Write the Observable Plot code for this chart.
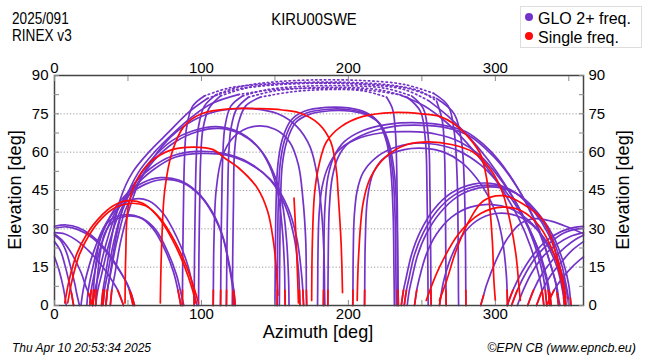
<!DOCTYPE html>
<html><head><meta charset="utf-8">
<script src="https://cdn.jsdelivr.net/npm/d3@7"></script>
<script src="https://cdn.jsdelivr.net/npm/@observablehq/plot@0.6"></script>
<style>
body{margin:0;background:#fff;}
#wrap{position:relative;width:650px;height:360px;overflow:hidden;background:#fff;font-family:"Liberation Sans",Arial,sans-serif;color:#000}
.t{position:absolute;white-space:nowrap;line-height:1}
#legend{position:absolute;left:520px;top:6px;width:122px;height:42px;border:1px solid #ddd;background:#fff;box-sizing:border-box}
.dot{position:absolute;width:8px;height:8px;border-radius:50%}
</style></head><body><div id="wrap"></div>
<script>
// ---------- axis values ----------
const xTicks = [0, 50, 100, 150, 200, 250, 300, 350];
const xLabels = [0, 100, 200, 300];
const yTicks = [0, 7.5, 15, 22.5, 30, 37.5, 45, 52.5, 60, 67.5, 75, 82.5, 90];
const yLabels = [0, 15, 30, 45, 60, 75, 90];
const gridEl = [15, 30, 45, 60, 75];

// ---------- satellite tracks [azimuth, elevation] ----------
// t: "s" red start tail, "e" red end tail
const highPasses = [
 {t:"se", p:[[87,0],[87.1,6],[87.3,20],[87.8,40],[88.5,58],[90,70],[94,78],[102,82],[118,85],[140,86.5],[170,87.3],[200,87.3],[228,86.3],[248,84],[260,80],[264,72],[265.5,58],[266,40],[266.3,20],[266.4,6],[266.5,0]]},
 {t:"s", p:[[95,0],[95.1,6],[95.3,20],[95.8,40],[96.5,58],[98,70],[102,78],[110,82.5],[125,85.5],[150,87.5],[180,88.3],[210,88],[238,86.5],[258,83],[268,78],[272,68],[274,50],[274.7,25],[274.9,6],[275,0]]},
 {t:"e", p:[[98,0],[98.1,6],[98.3,20],[98.8,40],[99.5,58],[101,69],[105,77],[113,82],[130,85],[155,86.5],[185,87],[215,86.5],[240,85],[260,81],[272,75],[277,64],[279,45],[279.7,22],[279.9,6],[280,0]]},
 {t:"se", p:[[113,0],[113.1,6],[113.3,20],[113.8,40],[114.5,58],[116,70],[120,78],[128,82],[145,84.5],[170,85.8],[200,86],[225,85],[243,82],[251,77],[254.5,65],[255.5,45],[256,20],[256.2,6],[256.3,0]]},
 {t:"s", p:[[117,0],[117.1,6],[117.3,20],[117.8,40],[118.5,58],[120,69],[124,77],[132,81.5],[150,84],[175,85.2],[200,85.3],[222,84.3],[240,81.5],[249,76],[252.5,64],[253.5,45],[254,20],[254.2,6],[254.3,0]]},
 {t:"e", p:[[121,0],[121.1,6],[121.3,20],[121.8,40],[122.5,60],[125,71],[130,78],[140,81.5],[160,83.5],[185,84.5],[210,84],[226,81.5],[230,77],[232,68],[233,50],[233.5,25],[233.8,6],[234,0]]}
];
const southPasses = [
 {t:"", p:[[150,0],[150.1,6],[150.3,20],[150.8,40],[152,55],[155,65],[161,72.5],[170,76],[185,77.5],[200,77.3],[212,75.5],[220,72],[226,64],[229,52],[230.5,35],[231,15],[231.2,6],[231.3,0]]},
 {t:"s", p:[[151.5,0],[151.6,6],[151.8,20],[152.3,40],[153.5,55],[156.5,64.5],[162.5,72],[171.5,75.3],[186,76.8],[201,76.6],[213,74.8],[221,71.3],[227,63.3],[230.3,51.3],[231.8,34.5],[232.3,15],[232.5,6],[232.6,0]]},
 {t:"e", p:[[153,0],[153.1,6],[153.3,20],[153.8,40],[155,55],[158,64],[164,71.5],[173,74.7],[187.5,76.2],[202,76],[214,74.2],[222,70.7],[228,62.7],[231.5,50.7],[233,34],[233.5,15],[233.7,6],[233.8,0]]},
 {t:"se", p:[[108,0],[108.1,6],[108.5,25],[110,45],[114,58],[122,66],[135,70],[150,69],[160,64],[166,55],[169,42],[171,25],[171.4,6],[171.6,0]]},
 {t:"se", p:[[211,0],[211.1,6],[211.5,25],[213,42],[217,52],[225,58],[238,61],[252,61.5],[265,60],[277,56],[287,50],[295,43],[301,35],[305,25],[307.5,12],[308,6],[308.3,0]]}
];
const domeLeft = [
 {t:"se", p:[[33,0],[34,6],[36,12],[40,24],[46,37],[55,48],[66,57],[80,64.5],[95,68.5],[110,70],[125,68],[137,63],[146,55],[152,44],[155,30],[156.5,15],[156.8,6],[157,0]]},
 {t:"s", p:[[35,0],[36,6],[38,12],[42,24],[48,37],[57,48],[68,57],[82,64],[97,68],[112,69.3],[127,67],[140,61],[149,52],[155,40],[158,25],[159.3,10],[159.5,5],[159.6,0]]},
 {t:"se", p:[[26,0],[27.5,6],[30,12],[35,24],[42,36],[52,46],[65,53.5],[80,58.5],[97,60.3],[115,59.5],[132,56],[147,49],[157,39],[163,27],[166,14],[166.7,6],[167,0]]},
 {t:"e", p:[[28,0],[29.5,6],[32,12],[37,24],[44,36],[54,46],[67,53],[82,58],[99,59.5],[117,58.8],[134,55],[149,48],[159,38],[165,26],[168,13],[169,6],[169.5,0]]},
 {t:"s", p:[[38,0],[39,6],[41,12],[45,25],[51,38],[59,50],[70,60],[83,68],[98,73.5],[115,76.5],[135,77],[152,75],[165,70],[174,62],[179,50],[182,35],[183.5,18],[183.8,6],[184,0]]},
 {t:"se", p:[[32,0],[33,6],[35,13],[39,27],[45,42],[53,52],[65,60.5],[78,68],[91,75.5],[104,81],[123,84.5],[150,86.5],[180,87],[210,86.5],[238,84.5],[255,80],[268,74],[282,66],[295,57],[307,47],[318,36],[326,25],[332,13],[334,6],[335,0]]},
 {t:"e", p:[[35,0],[36,6],[38,13],[42,27],[48,41],[57,52],[68,60],[81,67.5],[94,74],[107,79],[125,82.5],[150,84.5],[180,85],[210,84.5],[235,82.5],[252,78],[266,72],[280,64],[293,55],[305,45],[316,34],[324,23],[330,11],[332,5],[333,0]]}
];
const domeRight = [
 {t:"se", p:[[183,0],[183.1,6],[183.3,20],[184,38],[186,50],[190,58],[197,64],[210,68.5],[228,71],[248,71.5],[265,70.5],[280,68],[292,63],[302,57],[312,49],[321,40],[329,30],[336,19],[341,9],[342,5],[343,0]]},
 {t:"s", p:[[186,0],[186.1,6],[186.3,20],[187,38],[189,50],[193,58],[200,63.5],[213,67.5],[230,70],[250,70.5],[267,69.5],[282,66.5],[294,61],[304,55],[314,47],[323,38],[331,28],[337,17],[342,7],[343,3],[344,0]]},
 {t:"se", p:[[203,0],[203.1,6],[203.3,20],[204,35],[206,45],[210,52],[218,57.5],[230,61.5],[245,63.5],[260,63],[275,60.5],[290,55],[302,48],[313,40],[322,31],[330,21],[335,11],[337,5],[338,0]]},
 {t:"e", p:[[179,0],[179.1,6],[179.3,20],[180,35],[182,46],[186,54],[193,60.5],[205,65],[222,67.5],[242,68],[260,67],[276,64],[289,59],[300,52],[310,44],[319,35],[327,25],[333,14],[336,6],[337,0]]},
 {t:"se", p:[[236,0],[237.5,6],[239,10],[243,20],[249,29],[258,37.5],[270,44],[285,47.5],[300,47.5],[314,44],[326,37],[336,28],[343,17],[346,9],[347.5,4],[348,0]]},
 {t:"s", p:[[238,0],[239.5,6],[241,10],[245,20],[251,28.5],[260,36.8],[272,43.2],[287,46.7],[302,46.7],[316,43.2],[328,36.2],[338,27.2],[345,16.2],[348,8.5],[349.5,3.5],[350,0]]},
 {t:"e", p:[[240,0],[241.5,6],[243,10],[247,19.5],[253,28],[262,36],[274,42.5],[289,46],[304,46],[318,42.5],[330,35.5],[340,26.5],[347,15.5],[350,8],[351,3],[351.5,0]]},
 {t:"se", p:[[245,0],[246.5,6],[248,10],[253,20],[260,28],[270,34.5],[283,38.5],[298,39.5],[312,37.5],[325,32],[335,24],[342,15],[345,8],[346.5,3],[347,0]]},
 {t:"s", p:[[262,0],[263,4],[265,10],[270,19],[277,27],[287,33],[300,36],[315,35],[328,30],[338,22],[345,13],[349,4],[350,0]]}
];
const lowLeft = [
 {t:"se", p:[[26,0],[26.5,6],[27,10],[29,20],[32,28],[38,33.5],[48,35.5],[58,34.5],[67,30],[75,22],[81,13],[84,6],[86,0]]},
 {t:"s", p:[[28,0],[28.5,6],[29,10],[31,20],[34,28],[40,33],[50,35],[60,34],[69,29.5],[77,21],[83,12],[86,5],[88,0]]},
 {t:"e", p:[[22,0],[23,6],[25,12],[30,24],[38,35],[48,43],[60,48],[72,50],[85,49],[97,44.5],[107,37],[114,28],[118,18],[121,8],[121.5,5],[122,0]]},
 {t:"se", p:[[24,0],[25,6],[27,12],[32,24],[40,35],[50,43],[62,47.5],[74,49.3],[87,48],[99,43],[108,35.5],[115,26],[119,16],[122,6],[123,0]]},
 {t:"", p:[[18,0],[19.5,6],[21,10],[26,20],[33,30],[42,37.5],[53,41.5],[64,41],[74,36],[83,27],[90,17],[94,8],[95,5],[97,0]]}
];
const northRight = [
 {t:"s", p:[[308,0],[312,6],[318,13],[326,20],[335,25.5],[345,29],[353,30.5],[360,31]]},
 {t:"s", p:[[311,0],[315,6],[321,13],[329,20],[338,25],[347,28.5],[354,29.8],[360,30.2]]},
 {t:"", p:[[315,0],[319,6],[325,13],[333,19.5],[342,24],[351,27],[360,28.5]]},
 {t:"s", p:[[322,0],[326,6],[332,12.5],[340,18.5],[348,23],[355,26],[360,27.5]]},
 {t:"s", p:[[328,0],[332,6],[338,12],[345,17],[352,21.5],[360,25]]},
 {t:"s", p:[[335,0],[340,6],[346,11],[353,15.5],[360,19]]},
 {t:"s", p:[[290,0],[292,4],[294,8],[300,17],[308,26],[317,32],[327,34],[338,33],[350,30.5],[360,28]]}
];
const northLeft = [
 {t:"e", p:[[0,31],[8,31.5],[16,30.5],[25,27.5],[34,22.5],[42,16],[48,10],[51,6],[53.5,0]]},
 {t:"e", p:[[0,30.2],[8,30.8],[16,29.7],[25,26.8],[34,21.8],[42,15.5],[49,9],[52,5],[54.5,0]]},
 {t:"e", p:[[0,28.5],[7,28],[15,25.5],[24,21],[33,15],[40,9],[43,6],[47,0]]},
 {t:"", p:[[0,27.5],[4,25.5],[8,21],[11,15],[14,8],[15,5],[17,0]]},
 {t:"e", p:[[0,25],[4,21.5],[7,16],[10,9],[11.5,5],[13,0]]},
 {t:"", p:[[0,19],[3,14],[6,7],[8,0]]},
 {t:"e", p:[[0,28],[6,25],[12,20],[18,13],[21,8],[23,5],[26,0]]}
];
const redPasses = [
 [[7,1],[10,10],[15,20],[22,28],[30,34],[40,39],[50,41],[60,40],[70,35],[80,26],[88,16],[94,6],[96,1]],
 [[9,1],[12,10],[17,20],[24,28],[32,34],[42,38.5],[52,40],[62,39],[72,34],[82,25],[90,15],[96,5],[98,1]],
 [[48,1],[48.5,20],[50,38],[55,48],[65,56],[80,61],[95,62],[108,61],[115,58],[125,54],[138,46],[145,37],[149,25],[151,14],[152,4]],
 [[72,1],[73,25],[75,45],[80,60],[88,70],[100,75],[120,77],[140,77],[155,76.5],[166,75.5],[180,71],[188,64],[192,52],[193,44],[195,25],[196,5]],
 [[175,2],[175.5,25],[177,44],[180,55],[185,64],[195,70],[210,74],[230,75.5],[250,75],[262,74],[272,71],[283,65],[290,59],[294,50],[296,40],[298,25],[299,10],[300,2]],
 [[206,2],[207,20],[210,40],[215,50],[225,58],[240,63],[255,64],[270,63],[285,60],[297,53],[305,44],[310,33],[314,20],[316,8],[317,2]],
 [[262,2],[267,10],[273,21],[282,33],[292,41],[305,43],[318,40],[333,33],[342,19],[346,10],[348,3]],
 [[253,2],[262,15],[275,28],[290,36],[305,38.5],[318,37],[330,31],[340,20],[345,10],[347,3]],
 [[163,42],[164.5,25],[165.5,10],[166,1]]
];

// ---------- build series ----------
const purpleColor = "#7433c8", redColor = "#ff0a0a";
const purpleTracks = [...highPasses, ...southPasses, ...domeLeft, ...domeRight, ...lowLeft, ...northRight, ...northLeft];
const solid = [], dotted = [], tails = [], reds = [];
let sid = 0;
const push = (arr, pts) => { sid++; for (const [x, y] of pts) arr.push({x, y, id: sid}); };
for (const tr of purpleTracks) {
  const p = tr.p;
  const hi = p.map((d, i) => d[1] >= 80 ? i : -1).filter(i => i >= 0);
  if (hi.length) {
    const i0 = hi[0], i1 = hi[hi.length - 1];
    push(solid, p.slice(0, i0 + 1));
    push(dotted, p.slice(i0, i1 + 1));
    push(solid, p.slice(i1));
  } else push(solid, p);
  if (tr.t.includes("s")) push(tails, p.slice(0, 2));
  if (tr.t.includes("e")) push(tails, p.slice(-2));
}
for (const p of redPasses) push(reds, p);

const lw = 1.7;
const chart = Plot.plot({
  width: 650, height: 360,
  marginLeft: 54, marginRight: 67, marginTop: 75, marginBottom: 55,
  x: {domain: [0, 360]},
  y: {domain: [0, 90]},
  style: {fontFamily: "Liberation Sans, Arial, sans-serif", fontSize: "15px", background: "white", color: "#000", overflow: "visible"},
  marks: [
    Plot.ruleY(gridEl, {stroke: "#999", strokeDasharray: "1.2,2", strokeWidth: 1}),
    Plot.line(solid, {x: "x", y: "y", z: "id", stroke: purpleColor, strokeWidth: lw, curve: "catmull-rom"}),
    Plot.line(dotted, {x: "x", y: "y", z: "id", stroke: purpleColor, strokeWidth: lw, strokeDasharray: "1.4,3", curve: "catmull-rom"}),
    Plot.line(reds, {x: "x", y: "y", z: "id", stroke: redColor, strokeWidth: lw, curve: "catmull-rom"}),
    Plot.line(tails, {x: "x", y: "y", z: "id", stroke: redColor, strokeWidth: lw}),
    Plot.frame({stroke: "#444", strokeWidth: 1.5}),
    Plot.axisX(xTicks, {anchor: "bottom", tickSize: -5, tickPadding: 8, stroke: "#888", fontSize: 15, label: null, tickFormat: d => xLabels.includes(d) ? d : ""}),
    Plot.axisX(xTicks, {anchor: "top", tickSize: -5, tickPadding: 8, stroke: "#888", fontSize: 15, label: null, tickFormat: d => xLabels.includes(d) ? d : ""}),
    Plot.axisY(yTicks, {anchor: "left", tickSize: -5, tickPadding: 11, stroke: "#888", fontSize: 15, label: null, tickFormat: d => yLabels.includes(d) ? d : ""}),
    Plot.axisY(yTicks, {anchor: "right", tickSize: -5, tickPadding: 10, stroke: "#888", fontSize: 15, label: null, tickFormat: d => yLabels.includes(d) ? d : ""})
  ]
});
const wrap = document.getElementById("wrap");
wrap.appendChild(chart);
chart.style.position = "absolute"; chart.style.left = "0"; chart.style.top = "0";

function addText(txt, css) {
  const d = document.createElement("div");
  d.className = "t";
  d.textContent = txt;
  Object.assign(d.style, css);
  wrap.appendChild(d);
  return d;
}
addText("2025/091\nRINEX v3", {left: "12px", top: "11px", fontSize: "17px", lineHeight: "16.5px", whiteSpace: "pre", transform: "scaleX(0.8)", transformOrigin: "0 0"});
addText("KIRU00SWE", {left: "314px", top: "11px", fontSize: "17px", transform: "translateX(-50%) scaleX(0.87)"});
const lg = document.createElement("div"); lg.id = "legend"; wrap.appendChild(lg);
const d1 = document.createElement("div"); d1.className = "dot"; Object.assign(d1.style, {left: "525px", top: "13px", background: purpleColor}); wrap.appendChild(d1);
const d2 = document.createElement("div"); d2.className = "dot"; Object.assign(d2.style, {left: "525px", top: "32px", background: redColor}); wrap.appendChild(d2);
addText("GLO 2+ freq.", {left: "538px", top: "10px", fontSize: "16.5px", transform: "scaleX(0.97)", transformOrigin: "0 0"});
addText("Single freq.", {left: "538px", top: "29px", fontSize: "16.5px", transform: "scaleX(0.97)", transformOrigin: "0 0"});
addText("Elevation [deg]", {left: "14px", top: "190px", fontSize: "19px", transform: "translate(-50%,-50%) rotate(-90deg) scaleX(0.95)"});
addText("Elevation [deg]", {left: "622px", top: "190px", fontSize: "19px", transform: "translate(-50%,-50%) rotate(-90deg) scaleX(0.95)"});
addText("Azimuth [deg]", {left: "318px", top: "322px", fontSize: "19px", transform: "translateX(-50%) scaleX(0.95)"});
addText("Thu Apr 10 20:53:34 2025", {left: "12px", top: "342px", fontSize: "12px", fontStyle: "italic"});
addText("\u00a9EPN CB (www.epncb.eu)", {right: "14px", top: "342px", fontSize: "12.5px", fontStyle: "italic"});
</script></body></html>
